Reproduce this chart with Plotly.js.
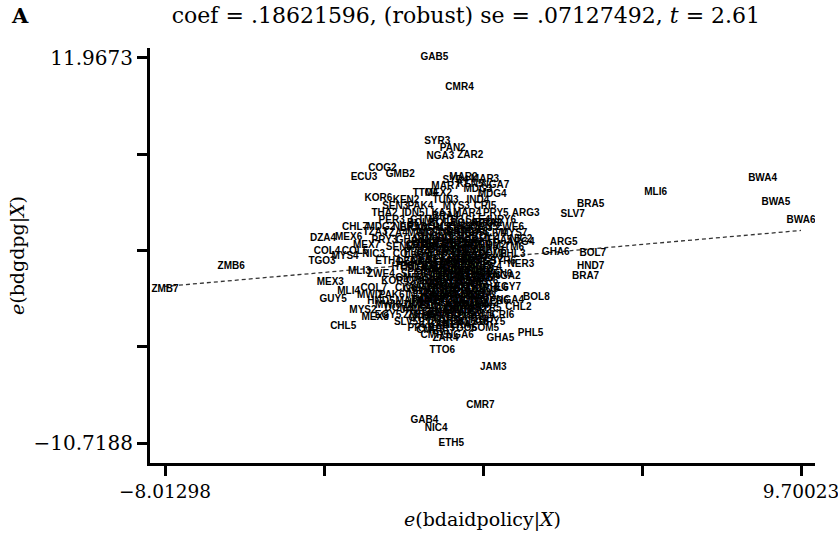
<!DOCTYPE html>
<html>
<head>
<meta charset="utf-8">
<script src="https://cdn.plot.ly/plotly-3.0.1.min.js"></script>
<style>html,body{margin:0;padding:0;background:#fff;}#chart{width:838px;height:546px;}</style>
</head>
<body>
<div id="chart"></div>
<script>
// Regression result shown in the title
const coef = 0.18621596;
const se = 0.07127492;
const tstat = 2.61;

// Axis extreme tick values
const xTickMin = -8.01298, xTickMax = 9.70023;
const yTickMin = -10.7188, yTickMax = 11.9673;

// Clearly readable observations (outer points)
const outerLabels = ["GAB5","CMR4","SYR3","PAN2","NGA3","ZAR2","COG2","ECU3","GMB2","KOR6","TTO4","SYR4","KEN5","NGA7",
  "ARG3","SLV7","BRA5","MLI6","BWA4","BWA5","BWA6","ZMB7","ZMB6","CHL7","DZA4","TZA3","COL4","COL5","TGO3","MEX3",
  "GUY5","CHL5","MEX8","ARG4","ARG5","PHL3","GHA6","BOL7","HND7","BRA7","EGY7","BOL8","CHL2","PHL5","GHA5","ZAR4",
  "TTO6","JAM3","CMR7","GAB4","NIC4","ETH5","CMR3"];
const outerX = [-0.51,0.19,-0.43,0.00,-0.34,0.49,-1.96,-2.47,-1.46,-2.07,-0.76,0.08,0.49,1.19,
  2.03,3.34,3.84,5.65,8.63,9.00,9.70023,-8.01298,-6.17,-2.72,-3.61,-2.16,-3.50,-2.72,-3.64,-3.41,
  -3.33,-3.05,-2.16,1.89,3.09,1.67,2.87,3.90,3.84,3.70,1.53,2.33,1.83,2.17,1.33,-0.20,
  -0.29,1.13,0.77,-0.79,-0.46,-0.04,-0.62];
const outerY = [11.9673,10.24,7.02,6.66,6.19,6.25,5.43,4.90,5.13,3.66,4.01,4.72,4.54,4.43,
  2.78,2.72,3.31,4.07,4.84,3.48,2.42,-1.65,-0.29,2.00,1.36,1.66,0.59,0.54,-0.05,-1.29,
  -2.29,-3.88,-3.35,1.07,1.07,0.36,0.48,0.42,-0.29,-0.88,-1.53,-2.12,-2.76,-4.24,-4.54,-4.54,
  -5.25,-6.25,-8.49,-9.37,-9.84,-10.7188,-4.07];

// Observations inside the dense central cluster
const coreLabels = ["KEN2","TUN3","IND4","SEN3","PAK4","MYS3","CRI5","THA2","IDN5","LKA3","MAR4","PRY5",
  "PER3","GTM4","HTI3","SLE4","URY6","MDG2","NER5","DOM3","TUR4","VEN5","ZWE6",
  "TZA4","MWI3","SOM4","ECU5","CIV4","PRY3","GHA3","HND4","IND5","KEN4","THA5",
  "SEN5","MAR5","MYS5","PAK5","TUN5","GTM6","NIC3","COL6","CRI3","IDN4","LKA5","DOM6",
  "ETH4","EGY4","SLV4","PER5","MDG5","SYR6","HTI5","TGO5","JAM5","NGA5","URY4",
  "ZWE4","SLE6","TUR6","MWI5","THA6","VEN6","KOR4","CMR6","ZAR6","GMB5","NER6",
  "COL7","CIV6","DZA5","MEX5","ECU6","PHL6","PAK6","IND6","GHA4","KEN6","SEN6",
  "HND5","MAR6","NIC5","TZA6","GTM5","PER6","DOM5","LKA6","TUN6","MYS6","SYR5",
  "EGY5","ZMB4","IDN6","BOL5","JAM6","CRI6","SLV5","ETH6","HTI6","MDG6","URY5",
  "PRY6","ZAR5","TGO6","SOM5","CMR5","NGA6",
  "ARG2","BRA3","BOL4","CHL3","COL3","ECU4","GHA2","IDN3","KEN3","KOR3","MEX4",
  "PAK3","PHL4","SLV3","THA4","TUR3","VEN4","ZWE5","MWI4","SEN4","NIC6","SYR2",
  "ARG6","BRA4","CHL4","CHL6","DZA6","EGY6","ETH3","GMB3","GTM3","HND3","IND3",
  "JAM4","MLI5","NER4","SLE5","TZA5","TGO4","URY3","ZMB5","ZAR3"];
const coreX = [-1.3,-0.2,0.7,-1.6,-0.9,0.1,0.9,-1.9,-1.1,-0.4,0.4,1.2,
  -1.7,-0.8,0.0,0.7,1.4,-2.0,-1.3,-0.5,0.2,0.9,1.6,
  -1.6,-0.9,-0.2,0.5,1.2,-1.9,-1.2,-0.6,0.0,0.6,1.3,
  -1.5,-0.9,-0.3,0.3,0.9,1.6,-2.2,-1.3,-0.7,-0.1,0.5,1.1,
  -1.8,-1.0,-0.4,0.2,0.8,1.4,-1.4,-0.8,-0.2,0.4,1.0,
  -2.0,-1.1,-0.5,0.1,0.7,1.3,-1.6,-0.9,-0.3,0.3,0.9,
  -2.2,-1.3,-0.6,0.0,0.6,1.2,-1.7,-1.0,-0.4,0.2,0.8,
  -2.0,-1.2,-0.6,0.0,0.6,1.2,-1.5,-0.8,-0.2,0.4,1.0,
  -1.8,-1.0,-0.4,0.2,0.8,1.4,-1.3,-0.6,0.0,0.6,1.1,
  -0.9,-0.3,0.3,0.9,-0.5,0.2,
  -0.5,0.2,0.7,-0.6,0.05,0.6,-0.65,0.25,0.55,-0.1,0.5,
  -0.5,0.45,-0.8,0.3,-0.3,0.4,-1.0,0.2,-0.5,0.5,0.0,
  0.9,-0.2,-0.7,0.4,-1.2,0.75,-0.35,0.15,-0.85,0.35,-0.05,
  0.65,-0.45,0.1,-0.75,0.55,-0.25,0.85,-0.6,0.3];
const coreY = [3.6,3.6,3.6,3.2,3.2,3.2,3.2,2.8,2.8,2.8,2.8,2.8,
  2.4,2.4,2.4,2.4,2.4,2.0,2.0,2.0,2.0,2.0,2.0,
  1.6,1.6,1.6,1.6,1.6,1.2,1.2,1.2,1.2,1.2,1.2,
  0.8,0.8,0.8,0.8,0.8,0.8,0.4,0.4,0.4,0.4,0.4,0.4,
  0.0,0.0,0.0,0.0,0.0,0.0,-0.4,-0.4,-0.4,-0.4,-0.4,
  -0.8,-0.8,-0.8,-0.8,-0.8,-0.8,-1.2,-1.2,-1.2,-1.2,-1.2,
  -1.6,-1.6,-1.6,-1.6,-1.6,-1.6,-2.0,-2.0,-2.0,-2.0,-2.0,
  -2.4,-2.4,-2.4,-2.4,-2.4,-2.4,-2.8,-2.8,-2.8,-2.8,-2.8,
  -3.2,-3.2,-3.2,-3.2,-3.2,-3.2,-3.6,-3.6,-3.6,-3.6,-3.6,
  -4.0,-4.0,-4.0,-4.0,-4.4,-4.4,
  1.0,1.0,1.0,0.2,0.2,0.2,-0.6,-0.6,-0.6,-1.0,-1.0,
  -1.4,-1.4,-1.8,-1.8,-2.2,-2.2,-2.6,-2.6,-3.0,-3.0,-0.2,
  2.2,2.6,1.4,1.8,-0.1,-1.0,-1.4,-2.9,-3.4,0.6,-0.9,
  -2.6,-0.5,-3.8,1.0,0.1,-1.8,-2.1,-2.2,0.3];

// Further observations packed into the cluster
const moreLabels = ["BOL2","BOL3","BOL6","BRA2","BRA6","CHL8","CIV2","CIV3","CIV5","CMR2",
  "COL2","CRI2","CRI4","CRI7","DOM2","DOM4","DOM7","DZA2","DZA3","ECU2",
  "ECU7","EGY2","EGY3","ETH7","GAB2","GAB3","GAB6","GHA7","GMB4","GMB6",
  "GTM2","GTM7","GUY2","GUY3","GUY4","GUY6","HND2","HND6","HTI2","HTI4",
  "IDN2","IDN7","IND2","IND7","JAM2","JAM7","KEN7","KOR2","KOR5","KOR7",
  "LKA2","LKA4","LKA7","MAR2","MAR3","MAR7","MDG3","MDG4","MEX2","MEX6",
  "MEX7","MLI3","MLI4","MWI2","MWI6","MYS2","MYS4","MYS7","NER3","NGA2",
  "NGA4","NIC2"];
const moreX = [-0.9,-0.3,0.3,1.0, -1.1,-0.4,0.2,0.8, -0.3,0.3,0.9,
  -1.0,-0.2,0.4,1.1, -0.5,0.1,0.7, -0.8,-0.15,0.45,1.05, -1.1,-0.5,0.1,0.7,
  -0.2,0.9, -1.2,-0.6,0.2,0.8, -0.2,0.6, -1.0,-0.3,0.4,0.9, -0.6,0.0,0.6,
  -0.9,-0.3,0.4,0.9, -1.1,-0.1,0.7, -0.7,0.0,0.5, -0.5,0.3,
  0.3,0.9,-0.2,0.7,1.1,-0.4,
  -2.9,-2.4,-2.6,-2.9,-2.3,-1.8,-2.5,-3.0,
  1.7,1.9,1.5,1.6,1.9];
const moreY = [2.2,2.2,2.2,2.2, 1.9,1.9,1.9,1.9, 1.4,1.4,1.4,
  0.9,0.9,0.9,0.9, 0.6,0.6,0.6, 0.1,0.1,0.1,0.1, -0.3,-0.3,-0.3,-0.3,
  -0.6,-0.6, -1.0,-1.0,-1.0,-1.0, -1.3,-1.3, -1.7,-1.7,-1.7,-1.7, -2.1,-2.1,-2.1,
  -2.5,-2.5,-2.5,-2.5, -2.9,-2.9,-2.9, -3.3,-3.3,-3.3, -3.8,-3.8,
  4.9,4.8,4.4,4.2,3.9,4.0,
  1.4,0.9,-0.6,-1.8,-2.0,-2.6,-2.9,0.3,
  1.6,-0.2,-0.9,-2.3,1.3];

// Innermost observations of the darkest part of the cluster
const innerLabels = ["NIC7","NER7","NGA8","PAK2","PAK7","PER2","PER4","PER7","PHL2","PHL7",
  "PRY2","PRY4","PRY7","SEN2","SEN7","SLE2","SLE3","SLE7","SLV2","SLV6",
  "SOM2","SOM3","SYR7","TGO2","TGO7","THA3","THA7","TTO2","TTO3","TTO5",
  "TUN2","TUN4","TUN7","TUR2","TUR5","TUR7"];
const innerX = [-0.7,0.0,0.6, -0.8,-0.1,0.5, -1.0,-0.3,0.3,0.9, -0.6,0.0,0.6,
  -0.9,-0.3,0.3,0.8, -0.4,0.4,1.0, -0.8,-0.1,0.5, -0.5,0.1,0.7,
  -0.8,-0.2,0.3, -0.6,0.1,0.6, -0.3,0.3, -0.2,0.8];
const innerY = [1.7,1.7,1.7, 1.1,1.1,1.1, 0.5,0.5,0.5,0.5, -0.1,-0.1,-0.1,
  -0.5,-0.5,-0.5,-0.5, -0.9,-0.9,-0.9, -1.5,-1.5,-1.5, -1.9,-1.9,-1.9,
  -2.3,-2.3,-2.3, -2.7,-2.7,-2.7, -3.1,-3.1, -3.5,-3.5];

const labels = outerLabels.concat(coreLabels, moreLabels, innerLabels);
const xs = outerX.concat(coreX, moreX, innerX);
const ys = outerY.concat(coreY, moreY, innerY);

// Fitted line through the residual scatter: y = coef * x
const lineX = [Math.min(...xs), Math.max(...xs)];
const lineY = lineX.map(v => coef * v);

const serif = "DejaVu Serif";
const xTicks = [0,1,2,3,4].map(i => xTickMin + i * (xTickMax - xTickMin) / 4);
const yTicks = [0,1,2,3,4].map(i => yTickMin + i * (yTickMax - yTickMin) / 4);
const fmtMinus = v => v < 0 ? "\u2212" + String(Math.abs(v)) : String(v);

const traces = [
  {type: "scatter", mode: "lines", x: lineX, y: lineY,
   line: {color: "#333", width: 1.3, dash: "4px,3px"}, hoverinfo: "skip", showlegend: false},
  {type: "scatter", mode: "text", x: xs, y: ys, text: labels,
   textposition: "middle center",
   textfont: {family: "Liberation Sans", size: 10, color: "#000", weight: "bold"},
   showlegend: false}
];

const layout = {
  width: 838, height: 546,
  paper_bgcolor: "#fff", plot_bgcolor: "#fff",
  margin: {l: 150, r: 23, t: 48, b: 83},
  showlegend: false,
  title: {
    text: "coef = .18621596, (robust) se = .07127492, <i>t</i> = " + tstat.toFixed(2),
    font: {family: serif, size: 22, color: "#000"},
    x: 0.556, xref: "container", xanchor: "center",
    y: 0.972, yref: "container", yanchor: "middle"
  },
  annotations: [
    {text: "<b>A</b>", xref: "paper", yref: "paper", x: -0.212, y: 1.078,
     xanchor: "left", yanchor: "middle", showarrow: false,
     font: {family: serif, size: 21, color: "#000"}}
  ],
  xaxis: {
    range: [-8.431, 10.09],
    showgrid: false, zeroline: false,
    showline: true, linecolor: "#000", linewidth: 3,
    ticks: "outside", ticklen: 10, tickwidth: 3, tickcolor: "#000",
    tickvals: xTicks,
    ticktext: xTicks.map((v, i) => (i === 0 || i === 4) ? fmtMinus(+v.toFixed(5)) : ""),
    tickfont: {family: serif, size: 18.5, color: "#000"},
    ticklabeloverflow: "allow",
    title: {text: "<i>e</i>(bdaidpolicy|<i>X</i>)", font: {family: serif, size: 19, color: "#000"}, standoff: 12}
  },
  yaxis: {
    range: [-11.897, 12.556],
    showgrid: false, zeroline: false,
    showline: true, linecolor: "#000", linewidth: 3,
    ticks: "outside", ticklen: 10, tickwidth: 3, tickcolor: "#000",
    tickvals: yTicks,
    ticktext: yTicks.map((v, i) => (i === 0 || i === 4) ? fmtMinus(+v.toFixed(4)) : ""),
    tickfont: {family: serif, size: 20, color: "#000"},
    ticklabeloverflow: "allow",
    title: {text: "<i>e</i>(bdgdpg|<i>X</i>)", font: {family: serif, size: 19, color: "#000"}, standoff: 4}
  }
};

Plotly.newPlot("chart", traces, layout, {displayModeBar: false, staticPlot: true});
</script>
</body>
</html>
